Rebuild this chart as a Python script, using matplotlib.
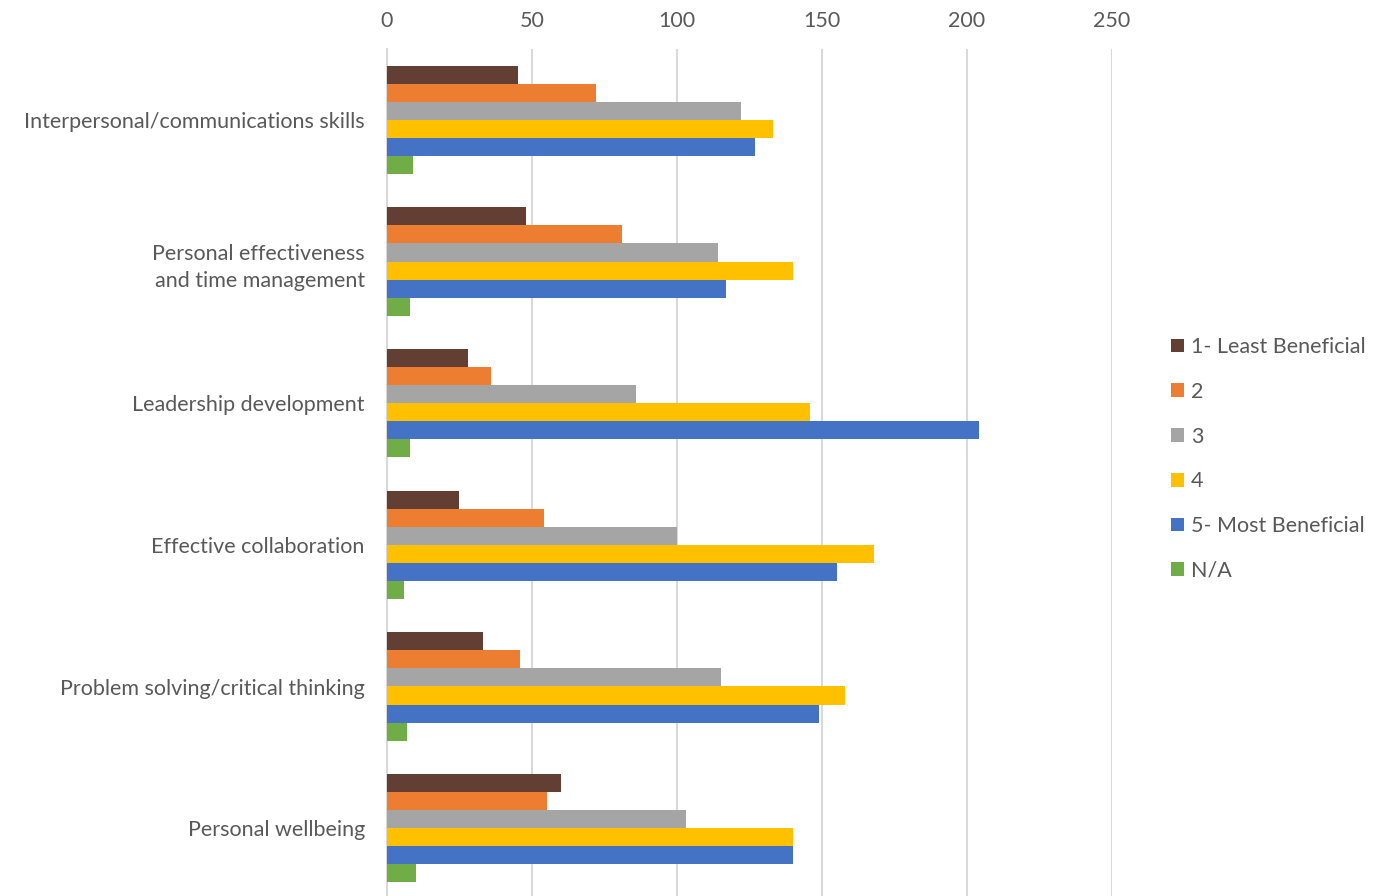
import numpy as np
import matplotlib.pyplot as plt

plt.rcParams['font.family'] = ['Lato', 'DejaVu Sans']

categories = [
    'Interpersonal/communications skills',
    'Personal effectiveness\nand time management',
    'Leadership development',
    'Effective collaboration',
    'Problem solving/critical thinking',
    'Personal wellbeing',
]
series_names = ['1- Least Beneficial', '2', '3', '4', '5- Most Beneficial', 'N/A']
least = [45, 48, 28, 25, 33, 60]
two = [72, 81, 36, 54, 46, 55]
three = [122, 114, 86, 100, 115, 103]
four = [133, 140, 146, 168, 158, 140]
most = [127, 117, 204, 155, 149, 140]
na = [9, 8, 8, 6, 7, 10]
colors = ['#633E32', '#ED7D31', '#A5A5A5', '#FFC000', '#4472C4', '#70AD47']

series = [least, two, three, four, most, na]
n = len(series)
group_w = 0.765
bar_h = group_w / n
y = np.arange(len(categories))

fig = plt.figure(figsize=(13.85, 8.96), dpi=100)
ax = fig.add_axes([387 / 1385, -3 / 896, (1112 - 387) / 1385, (896 - 49 + 3) / 896])

for i, (vals, name, c) in enumerate(zip(series, series_names, colors)):
    offs = -group_w / 2 + bar_h * (i + 0.5)
    ax.barh(y + offs, vals, height=bar_h, color=c, label=name, zorder=3)

ax.set_xlim(0, 250)
ax.set_ylim(len(categories) - 0.5, -0.5)
ax.set_xticks(np.arange(0, 251, 50))
ax.xaxis.tick_top()
ax.set_yticks(y)
ax.set_yticklabels(categories, ha='right', multialignment='right', linespacing=1.45)
ax.tick_params(axis='both', length=0, labelsize=15.5, colors='#595959')
ax.tick_params(axis='x', pad=13)
ax.tick_params(axis='y', pad=16)
ax.grid(axis='x', color='#D9D9D9', linewidth=1.5, zorder=0)
for s in ['top', 'right', 'bottom']:
    ax.spines[s].set_visible(False)
ax.spines['left'].set_color('#D9D9D9')
ax.spines['left'].set_linewidth(1.5)

leg = fig.legend(loc='center left', bbox_to_anchor=(1152 / 1385, 1 - 459 / 896),
                 frameon=False, fontsize=15.5, labelcolor='#595959',
                 handlelength=0.6, handleheight=0.6, handletextpad=0.3,
                 labelspacing=1.15)

fig.savefig('out.png', dpi=100)
